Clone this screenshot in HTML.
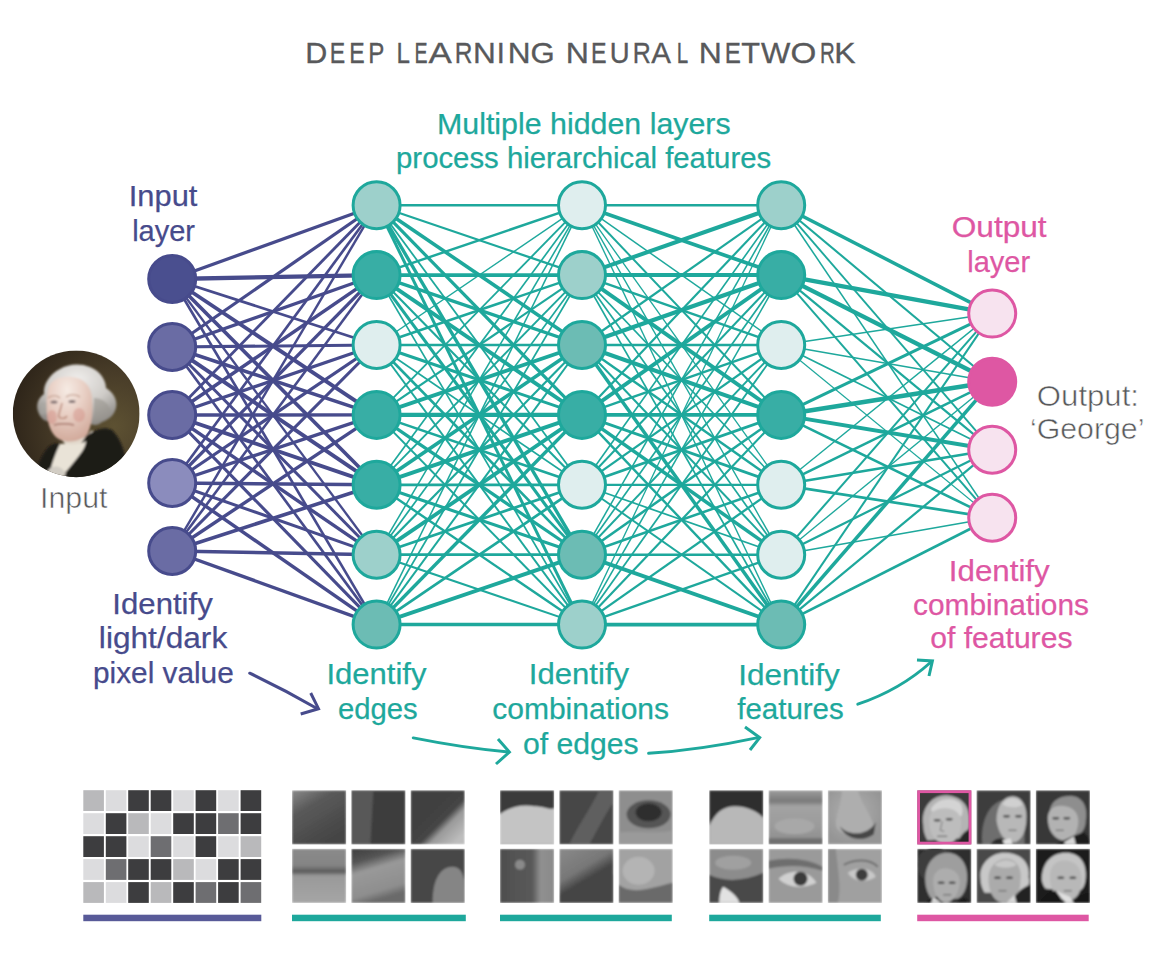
<!DOCTYPE html>
<html><head><meta charset="utf-8"><style>
html,body{margin:0;padding:0;background:#fff;}
body{width:1172px;height:953px;position:relative;overflow:hidden;font-family:"Liberation Sans",sans-serif;}
</style></head><body>
<svg width="1172" height="953" viewBox="0 0 1172 953" style="position:absolute;left:0;top:0">
<g stroke="#474b8c" stroke-linecap="butt">
<line x1="172.2" y1="279" x2="376.6" y2="205.2" stroke-width="3.28"/>
<line x1="172.2" y1="279" x2="376.6" y2="275.1" stroke-width="4.3"/>
<line x1="172.2" y1="279" x2="376.6" y2="345.0" stroke-width="2.73"/>
<line x1="172.2" y1="279" x2="376.6" y2="414.9" stroke-width="3.82"/>
<line x1="172.2" y1="279" x2="376.6" y2="484.8" stroke-width="3.63"/>
<line x1="172.2" y1="279" x2="376.6" y2="554.7" stroke-width="2.33"/>
<line x1="172.2" y1="279" x2="376.6" y2="624.6" stroke-width="2.63"/>
<line x1="172.2" y1="347" x2="376.6" y2="205.2" stroke-width="3.22"/>
<line x1="172.2" y1="347" x2="376.6" y2="275.1" stroke-width="3.17"/>
<line x1="172.2" y1="347" x2="376.6" y2="345.0" stroke-width="3.12"/>
<line x1="172.2" y1="347" x2="376.6" y2="414.9" stroke-width="3.59"/>
<line x1="172.2" y1="347" x2="376.6" y2="484.8" stroke-width="3.93"/>
<line x1="172.2" y1="347" x2="376.6" y2="554.7" stroke-width="2.96"/>
<line x1="172.2" y1="347" x2="376.6" y2="624.6" stroke-width="2.65"/>
<line x1="172.2" y1="415" x2="376.6" y2="205.2" stroke-width="2.86"/>
<line x1="172.2" y1="415" x2="376.6" y2="275.1" stroke-width="3.51"/>
<line x1="172.2" y1="415" x2="376.6" y2="345.0" stroke-width="3.19"/>
<line x1="172.2" y1="415" x2="376.6" y2="414.9" stroke-width="3.37"/>
<line x1="172.2" y1="415" x2="376.6" y2="484.8" stroke-width="3.87"/>
<line x1="172.2" y1="415" x2="376.6" y2="554.7" stroke-width="3.42"/>
<line x1="172.2" y1="415" x2="376.6" y2="624.6" stroke-width="3.11"/>
<line x1="172.2" y1="483" x2="376.6" y2="205.2" stroke-width="2.68"/>
<line x1="172.2" y1="483" x2="376.6" y2="275.1" stroke-width="3.28"/>
<line x1="172.2" y1="483" x2="376.6" y2="345.0" stroke-width="3.22"/>
<line x1="172.2" y1="483" x2="376.6" y2="414.9" stroke-width="3.38"/>
<line x1="172.2" y1="483" x2="376.6" y2="484.8" stroke-width="3.37"/>
<line x1="172.2" y1="483" x2="376.6" y2="554.7" stroke-width="2.98"/>
<line x1="172.2" y1="483" x2="376.6" y2="624.6" stroke-width="3.42"/>
<line x1="172.2" y1="551" x2="376.6" y2="205.2" stroke-width="2.44"/>
<line x1="172.2" y1="551" x2="376.6" y2="275.1" stroke-width="2.57"/>
<line x1="172.2" y1="551" x2="376.6" y2="345.0" stroke-width="3.09"/>
<line x1="172.2" y1="551" x2="376.6" y2="414.9" stroke-width="3.42"/>
<line x1="172.2" y1="551" x2="376.6" y2="484.8" stroke-width="3.59"/>
<line x1="172.2" y1="551" x2="376.6" y2="554.7" stroke-width="3.37"/>
<line x1="172.2" y1="551" x2="376.6" y2="624.6" stroke-width="3.42"/>
</g>
<g stroke="#1ea89c">
<line x1="376.6" y1="205.2" x2="582.0" y2="205.2" stroke-width="2.38"/>
<line x1="376.6" y1="205.2" x2="582.0" y2="275.1" stroke-width="2.26"/>
<line x1="376.6" y1="205.2" x2="582.0" y2="345.0" stroke-width="3.59"/>
<line x1="376.6" y1="205.2" x2="582.0" y2="414.9" stroke-width="3.19"/>
<line x1="376.6" y1="205.2" x2="582.0" y2="484.8" stroke-width="1.78"/>
<line x1="376.6" y1="205.2" x2="582.0" y2="554.7" stroke-width="3.36"/>
<line x1="376.6" y1="205.2" x2="582.0" y2="624.6" stroke-width="3.0"/>
<line x1="376.6" y1="275.1" x2="582.0" y2="205.2" stroke-width="2.45"/>
<line x1="376.6" y1="275.1" x2="582.0" y2="275.1" stroke-width="3.55"/>
<line x1="376.6" y1="275.1" x2="582.0" y2="345.0" stroke-width="3.4"/>
<line x1="376.6" y1="275.1" x2="582.0" y2="414.9" stroke-width="3.95"/>
<line x1="376.6" y1="275.1" x2="582.0" y2="484.8" stroke-width="2.12"/>
<line x1="376.6" y1="275.1" x2="582.0" y2="554.7" stroke-width="3.12"/>
<line x1="376.6" y1="275.1" x2="582.0" y2="624.6" stroke-width="1.73"/>
<line x1="376.6" y1="345.0" x2="582.0" y2="205.2" stroke-width="1.43"/>
<line x1="376.6" y1="345.0" x2="582.0" y2="275.1" stroke-width="2.51"/>
<line x1="376.6" y1="345.0" x2="582.0" y2="345.0" stroke-width="2.35"/>
<line x1="376.6" y1="345.0" x2="582.0" y2="414.9" stroke-width="2.99"/>
<line x1="376.6" y1="345.0" x2="582.0" y2="484.8" stroke-width="1.73"/>
<line x1="376.6" y1="345.0" x2="582.0" y2="554.7" stroke-width="2.56"/>
<line x1="376.6" y1="345.0" x2="582.0" y2="624.6" stroke-width="1.98"/>
<line x1="376.6" y1="414.9" x2="582.0" y2="205.2" stroke-width="1.86"/>
<line x1="376.6" y1="414.9" x2="582.0" y2="275.1" stroke-width="2.12"/>
<line x1="376.6" y1="414.9" x2="582.0" y2="345.0" stroke-width="3.86"/>
<line x1="376.6" y1="414.9" x2="582.0" y2="414.9" stroke-width="4.1"/>
<line x1="376.6" y1="414.9" x2="582.0" y2="484.8" stroke-width="2.53"/>
<line x1="376.6" y1="414.9" x2="582.0" y2="554.7" stroke-width="3.2"/>
<line x1="376.6" y1="414.9" x2="582.0" y2="624.6" stroke-width="2.02"/>
<line x1="376.6" y1="484.8" x2="582.0" y2="205.2" stroke-width="1.68"/>
<line x1="376.6" y1="484.8" x2="582.0" y2="275.1" stroke-width="1.86"/>
<line x1="376.6" y1="484.8" x2="582.0" y2="345.0" stroke-width="3.56"/>
<line x1="376.6" y1="484.8" x2="582.0" y2="414.9" stroke-width="4.06"/>
<line x1="376.6" y1="484.8" x2="582.0" y2="484.8" stroke-width="2.69"/>
<line x1="376.6" y1="484.8" x2="582.0" y2="554.7" stroke-width="3.1"/>
<line x1="376.6" y1="484.8" x2="582.0" y2="624.6" stroke-width="2.42"/>
<line x1="376.6" y1="554.7" x2="582.0" y2="205.2" stroke-width="1.54"/>
<line x1="376.6" y1="554.7" x2="582.0" y2="275.1" stroke-width="1.72"/>
<line x1="376.6" y1="554.7" x2="582.0" y2="345.0" stroke-width="2.2"/>
<line x1="376.6" y1="554.7" x2="582.0" y2="414.9" stroke-width="3.85"/>
<line x1="376.6" y1="554.7" x2="582.0" y2="484.8" stroke-width="2.75"/>
<line x1="376.6" y1="554.7" x2="582.0" y2="554.7" stroke-width="2.68"/>
<line x1="376.6" y1="554.7" x2="582.0" y2="624.6" stroke-width="2.03"/>
<line x1="376.6" y1="624.6" x2="582.0" y2="205.2" stroke-width="1.54"/>
<line x1="376.6" y1="624.6" x2="582.0" y2="275.1" stroke-width="1.78"/>
<line x1="376.6" y1="624.6" x2="582.0" y2="345.0" stroke-width="1.98"/>
<line x1="376.6" y1="624.6" x2="582.0" y2="414.9" stroke-width="3.49"/>
<line x1="376.6" y1="624.6" x2="582.0" y2="484.8" stroke-width="2.75"/>
<line x1="376.6" y1="624.6" x2="582.0" y2="554.7" stroke-width="3.9"/>
<line x1="376.6" y1="624.6" x2="582.0" y2="624.6" stroke-width="3.5"/>
<line x1="582.0" y1="205.2" x2="781.2" y2="205.2" stroke-width="2.35"/>
<line x1="582.0" y1="205.2" x2="781.2" y2="275.1" stroke-width="3.72"/>
<line x1="582.0" y1="205.2" x2="781.2" y2="345.0" stroke-width="1.48"/>
<line x1="582.0" y1="205.2" x2="781.2" y2="414.9" stroke-width="1.98"/>
<line x1="582.0" y1="205.2" x2="781.2" y2="484.8" stroke-width="1.33"/>
<line x1="582.0" y1="205.2" x2="781.2" y2="554.7" stroke-width="1.38"/>
<line x1="582.0" y1="205.2" x2="781.2" y2="624.6" stroke-width="1.38"/>
<line x1="582.0" y1="275.1" x2="781.2" y2="205.2" stroke-width="4.06"/>
<line x1="582.0" y1="275.1" x2="781.2" y2="275.1" stroke-width="4.0"/>
<line x1="582.0" y1="275.1" x2="781.2" y2="345.0" stroke-width="2.51"/>
<line x1="582.0" y1="275.1" x2="781.2" y2="414.9" stroke-width="3.95"/>
<line x1="582.0" y1="275.1" x2="781.2" y2="484.8" stroke-width="1.61"/>
<line x1="582.0" y1="275.1" x2="781.2" y2="554.7" stroke-width="1.7"/>
<line x1="582.0" y1="275.1" x2="781.2" y2="624.6" stroke-width="1.72"/>
<line x1="582.0" y1="345.0" x2="781.2" y2="205.2" stroke-width="2.2"/>
<line x1="582.0" y1="345.0" x2="781.2" y2="275.1" stroke-width="4.25"/>
<line x1="582.0" y1="345.0" x2="781.2" y2="345.0" stroke-width="2.33"/>
<line x1="582.0" y1="345.0" x2="781.2" y2="414.9" stroke-width="4.06"/>
<line x1="582.0" y1="345.0" x2="781.2" y2="484.8" stroke-width="2.38"/>
<line x1="582.0" y1="345.0" x2="781.2" y2="554.7" stroke-width="2.02"/>
<line x1="582.0" y1="345.0" x2="781.2" y2="624.6" stroke-width="3.48"/>
<line x1="582.0" y1="414.9" x2="781.2" y2="205.2" stroke-width="2.16"/>
<line x1="582.0" y1="414.9" x2="781.2" y2="275.1" stroke-width="3.89"/>
<line x1="582.0" y1="414.9" x2="781.2" y2="345.0" stroke-width="2.51"/>
<line x1="582.0" y1="414.9" x2="781.2" y2="414.9" stroke-width="3.8"/>
<line x1="582.0" y1="414.9" x2="781.2" y2="484.8" stroke-width="2.75"/>
<line x1="582.0" y1="414.9" x2="781.2" y2="554.7" stroke-width="3.6"/>
<line x1="582.0" y1="414.9" x2="781.2" y2="624.6" stroke-width="2.38"/>
<line x1="582.0" y1="484.8" x2="781.2" y2="205.2" stroke-width="1.63"/>
<line x1="582.0" y1="484.8" x2="781.2" y2="275.1" stroke-width="1.98"/>
<line x1="582.0" y1="484.8" x2="781.2" y2="345.0" stroke-width="2.21"/>
<line x1="582.0" y1="484.8" x2="781.2" y2="414.9" stroke-width="2.75"/>
<line x1="582.0" y1="484.8" x2="781.2" y2="484.8" stroke-width="2.15"/>
<line x1="582.0" y1="484.8" x2="781.2" y2="554.7" stroke-width="1.73"/>
<line x1="582.0" y1="484.8" x2="781.2" y2="624.6" stroke-width="1.92"/>
<line x1="582.0" y1="554.7" x2="781.2" y2="205.2" stroke-width="1.54"/>
<line x1="582.0" y1="554.7" x2="781.2" y2="275.1" stroke-width="1.66"/>
<line x1="582.0" y1="554.7" x2="781.2" y2="345.0" stroke-width="1.98"/>
<line x1="582.0" y1="554.7" x2="781.2" y2="414.9" stroke-width="2.56"/>
<line x1="582.0" y1="554.7" x2="781.2" y2="484.8" stroke-width="2.51"/>
<line x1="582.0" y1="554.7" x2="781.2" y2="554.7" stroke-width="2.53"/>
<line x1="582.0" y1="554.7" x2="781.2" y2="624.6" stroke-width="3.88"/>
<line x1="582.0" y1="624.6" x2="781.2" y2="205.2" stroke-width="1.31"/>
<line x1="582.0" y1="624.6" x2="781.2" y2="275.1" stroke-width="1.55"/>
<line x1="582.0" y1="624.6" x2="781.2" y2="345.0" stroke-width="1.78"/>
<line x1="582.0" y1="624.6" x2="781.2" y2="414.9" stroke-width="2.16"/>
<line x1="582.0" y1="624.6" x2="781.2" y2="484.8" stroke-width="2.32"/>
<line x1="582.0" y1="624.6" x2="781.2" y2="554.7" stroke-width="2.51"/>
<line x1="582.0" y1="624.6" x2="781.2" y2="624.6" stroke-width="3.71"/>
<line x1="781.2" y1="205.2" x2="992.2" y2="313.6" stroke-width="3.48"/>
<line x1="781.2" y1="205.2" x2="992.2" y2="381.7" stroke-width="2.09"/>
<line x1="781.2" y1="205.2" x2="992.2" y2="449.7" stroke-width="1.87"/>
<line x1="781.2" y1="205.2" x2="992.2" y2="517.8" stroke-width="1.55"/>
<line x1="781.2" y1="275.1" x2="992.2" y2="313.6" stroke-width="4.21"/>
<line x1="781.2" y1="275.1" x2="992.2" y2="381.7" stroke-width="4.4"/>
<line x1="781.2" y1="275.1" x2="992.2" y2="449.7" stroke-width="2.2"/>
<line x1="781.2" y1="275.1" x2="992.2" y2="517.8" stroke-width="1.99"/>
<line x1="781.2" y1="345.0" x2="992.2" y2="313.6" stroke-width="1.48"/>
<line x1="781.2" y1="345.0" x2="992.2" y2="381.7" stroke-width="1.54"/>
<line x1="781.2" y1="345.0" x2="992.2" y2="449.7" stroke-width="1.72"/>
<line x1="781.2" y1="345.0" x2="992.2" y2="517.8" stroke-width="1.2"/>
<line x1="781.2" y1="414.9" x2="992.2" y2="313.6" stroke-width="2.99"/>
<line x1="781.2" y1="414.9" x2="992.2" y2="381.7" stroke-width="4.54"/>
<line x1="781.2" y1="414.9" x2="992.2" y2="449.7" stroke-width="3.95"/>
<line x1="781.2" y1="414.9" x2="992.2" y2="517.8" stroke-width="2.62"/>
<line x1="781.2" y1="484.8" x2="992.2" y2="313.6" stroke-width="1.36"/>
<line x1="781.2" y1="484.8" x2="992.2" y2="381.7" stroke-width="2.46"/>
<line x1="781.2" y1="484.8" x2="992.2" y2="449.7" stroke-width="2.68"/>
<line x1="781.2" y1="484.8" x2="992.2" y2="517.8" stroke-width="2.7"/>
<line x1="781.2" y1="554.7" x2="992.2" y2="313.6" stroke-width="2.03"/>
<line x1="781.2" y1="554.7" x2="992.2" y2="381.7" stroke-width="1.36"/>
<line x1="781.2" y1="554.7" x2="992.2" y2="449.7" stroke-width="2.26"/>
<line x1="781.2" y1="554.7" x2="992.2" y2="517.8" stroke-width="1.48"/>
<line x1="781.2" y1="624.6" x2="992.2" y2="313.6" stroke-width="2.03"/>
<line x1="781.2" y1="624.6" x2="992.2" y2="381.7" stroke-width="3.54"/>
<line x1="781.2" y1="624.6" x2="992.2" y2="449.7" stroke-width="2.22"/>
<line x1="781.2" y1="624.6" x2="992.2" y2="517.8" stroke-width="2.74"/>
</g>
<circle cx="172.2" cy="279" r="23.5" fill="#4a4f8f" stroke="#474b8c" stroke-width="3"/>
<circle cx="172.2" cy="347" r="23.5" fill="#6a6ca4" stroke="#474b8c" stroke-width="3"/>
<circle cx="172.2" cy="415" r="23.5" fill="#6a6ca4" stroke="#474b8c" stroke-width="3"/>
<circle cx="172.2" cy="483" r="23.5" fill="#8b8cbd" stroke="#474b8c" stroke-width="3"/>
<circle cx="172.2" cy="551" r="23.5" fill="#6a6ca4" stroke="#474b8c" stroke-width="3"/>
<circle cx="376.6" cy="205.2" r="23.5" fill="#9dd0cb" stroke="#1ea89c" stroke-width="3"/>
<circle cx="376.6" cy="275.1" r="23.5" fill="#38aea5" stroke="#1ea89c" stroke-width="3"/>
<circle cx="376.6" cy="345.0" r="23.5" fill="#dfeeee" stroke="#1ea89c" stroke-width="3"/>
<circle cx="376.6" cy="414.9" r="23.5" fill="#38aea5" stroke="#1ea89c" stroke-width="3"/>
<circle cx="376.6" cy="484.8" r="23.5" fill="#38aea5" stroke="#1ea89c" stroke-width="3"/>
<circle cx="376.6" cy="554.7" r="23.5" fill="#9dd0cb" stroke="#1ea89c" stroke-width="3"/>
<circle cx="376.6" cy="624.6" r="23.5" fill="#6cbcb4" stroke="#1ea89c" stroke-width="3"/>
<circle cx="582.0" cy="205.2" r="23.5" fill="#dfeeee" stroke="#1ea89c" stroke-width="3"/>
<circle cx="582.0" cy="275.1" r="23.5" fill="#9dd0cb" stroke="#1ea89c" stroke-width="3"/>
<circle cx="582.0" cy="345.0" r="23.5" fill="#6cbcb4" stroke="#1ea89c" stroke-width="3"/>
<circle cx="582.0" cy="414.9" r="23.5" fill="#38aea5" stroke="#1ea89c" stroke-width="3"/>
<circle cx="582.0" cy="484.8" r="23.5" fill="#dfeeee" stroke="#1ea89c" stroke-width="3"/>
<circle cx="582.0" cy="554.7" r="23.5" fill="#6cbcb4" stroke="#1ea89c" stroke-width="3"/>
<circle cx="582.0" cy="624.6" r="23.5" fill="#9dd0cb" stroke="#1ea89c" stroke-width="3"/>
<circle cx="781.2" cy="205.2" r="23.5" fill="#9dd0cb" stroke="#1ea89c" stroke-width="3"/>
<circle cx="781.2" cy="275.1" r="23.5" fill="#38aea5" stroke="#1ea89c" stroke-width="3"/>
<circle cx="781.2" cy="345.0" r="23.5" fill="#dfeeee" stroke="#1ea89c" stroke-width="3"/>
<circle cx="781.2" cy="414.9" r="23.5" fill="#38aea5" stroke="#1ea89c" stroke-width="3"/>
<circle cx="781.2" cy="484.8" r="23.5" fill="#dfeeee" stroke="#1ea89c" stroke-width="3"/>
<circle cx="781.2" cy="554.7" r="23.5" fill="#dfeeee" stroke="#1ea89c" stroke-width="3"/>
<circle cx="781.2" cy="624.6" r="23.5" fill="#6cbcb4" stroke="#1ea89c" stroke-width="3"/>
<circle cx="992.2" cy="313.6" r="23.5" fill="#f7e3ef" stroke="#de57a3" stroke-width="3"/>
<circle cx="992.2" cy="381.7" r="23.5" fill="#de57a3" stroke="#de57a3" stroke-width="3"/>
<circle cx="992.2" cy="449.7" r="23.5" fill="#f7e3ef" stroke="#de57a3" stroke-width="3"/>
<circle cx="992.2" cy="517.8" r="23.5" fill="#f7e3ef" stroke="#de57a3" stroke-width="3"/>
<g font-family="Liberation Sans, sans-serif">
<text transform="translate(305.37,63) scale(1.017,1)" fill="#58595b" font-size="30" stroke="#58595b" stroke-width="0.35">D</text><text transform="translate(329.76,63) scale(0.771,1)" fill="#58595b" font-size="30" stroke="#58595b" stroke-width="0.35">E</text><text transform="translate(349.26,63) scale(0.771,1)" fill="#58595b" font-size="30" stroke="#58595b" stroke-width="0.35">E</text><text transform="translate(368.29,63) scale(0.806,1)" fill="#58595b" font-size="30" stroke="#58595b" stroke-width="0.35">P</text><text transform="translate(396.39,63) scale(0.807,1)" fill="#58595b" font-size="30" stroke="#58595b" stroke-width="0.35">L</text><text transform="translate(414.59,63) scale(0.653,1)" fill="#58595b" font-size="30" stroke="#58595b" stroke-width="0.35">E</text><text transform="translate(428.60,63) scale(1.165,1)" fill="#58595b" font-size="30" stroke="#58595b" stroke-width="0.35">A</text><text transform="translate(454.67,63) scale(0.817,1)" fill="#58595b" font-size="30" stroke="#58595b" stroke-width="0.35">R</text><text transform="translate(473.09,63) scale(1.053,1)" fill="#58595b" font-size="30" stroke="#58595b" stroke-width="0.35">N</text><text transform="translate(496.80,63) scale(0.967,1)" fill="#58595b" font-size="30" stroke="#58595b" stroke-width="0.35">I</text><text transform="translate(507.69,63) scale(1.053,1)" fill="#58595b" font-size="30" stroke="#58595b" stroke-width="0.35">N</text><text transform="translate(530.43,63) scale(1.037,1)" fill="#58595b" font-size="30" stroke="#58595b" stroke-width="0.35">G</text><text transform="translate(565.76,63) scale(1.071,1)" fill="#58595b" font-size="30" stroke="#58595b" stroke-width="0.35">N</text><text transform="translate(591.05,63) scale(0.776,1)" fill="#58595b" font-size="30" stroke="#58595b" stroke-width="0.35">E</text><text transform="translate(609.86,63) scale(0.918,1)" fill="#58595b" font-size="30" stroke="#58595b" stroke-width="0.35">U</text><text transform="translate(632.73,63) scale(0.833,1)" fill="#58595b" font-size="30" stroke="#58595b" stroke-width="0.35">R</text><text transform="translate(651.20,63) scale(0.985,1)" fill="#58595b" font-size="30" stroke="#58595b" stroke-width="0.35">A</text><text transform="translate(676.63,63) scale(0.686,1)" fill="#58595b" font-size="30" stroke="#58595b" stroke-width="0.35">L</text><text transform="translate(698.77,63) scale(1.065,1)" fill="#58595b" font-size="30" stroke="#58595b" stroke-width="0.35">N</text><text transform="translate(724.69,63) scale(0.806,1)" fill="#58595b" font-size="30" stroke="#58595b" stroke-width="0.35">E</text><text transform="translate(741.18,63) scale(1.024,1)" fill="#58595b" font-size="30" stroke="#58595b" stroke-width="0.35">T</text><text transform="translate(761.10,63) scale(1.036,1)" fill="#58595b" font-size="30" stroke="#58595b" stroke-width="0.35">W</text><text transform="translate(790.40,63) scale(1.105,1)" fill="#58595b" font-size="30" stroke="#58595b" stroke-width="0.35">O</text><text transform="translate(819.93,63) scale(0.683,1)" fill="#58595b" font-size="30" stroke="#58595b" stroke-width="0.35">R</text><text transform="translate(834.37,63) scale(1.065,1)" fill="#58595b" font-size="30" stroke="#58595b" stroke-width="0.35">K</text>
<text x="436.98" y="134" fill="#1ea89c" font-size="30" textLength="293.69" lengthAdjust="spacingAndGlyphs" stroke="#1ea89c" stroke-width="0.25">Multiple hidden layers</text>
<text x="396.04" y="167.5" fill="#1ea89c" font-size="30" textLength="375.16" lengthAdjust="spacingAndGlyphs" stroke="#1ea89c" stroke-width="0.25">process hierarchical features</text>
<text x="128.82" y="205.7" fill="#474b8c" font-size="30" textLength="68.51" lengthAdjust="spacingAndGlyphs" stroke="#474b8c" stroke-width="0.25">Input</text>
<text x="132.17" y="240.7" fill="#474b8c" font-size="30" textLength="62.86" lengthAdjust="spacingAndGlyphs" stroke="#474b8c" stroke-width="0.25">layer</text>
<text x="951.75" y="236.7" fill="#de57a3" font-size="30" textLength="94.82" lengthAdjust="spacingAndGlyphs" stroke="#de57a3" stroke-width="0.25">Output</text>
<text x="967.27" y="271.5" fill="#de57a3" font-size="30" textLength="62.86" lengthAdjust="spacingAndGlyphs" stroke="#de57a3" stroke-width="0.25">layer</text>
<text x="1036.86" y="405.5" fill="#58595b" font-size="30" textLength="102.14" lengthAdjust="spacingAndGlyphs" stroke="#fff" stroke-width="0.55">Output:</text>
<text x="1029.98" y="439" fill="#58595b" font-size="30" textLength="114.44" lengthAdjust="spacingAndGlyphs" stroke="#fff" stroke-width="0.55">&#8216;George&#8217;</text>
<text x="39.97" y="508" fill="#58595b" font-size="30" textLength="67.46" lengthAdjust="spacingAndGlyphs" stroke="#fff" stroke-width="0.55">Input</text>
<text x="112.39" y="614.4" fill="#474b8c" font-size="30" textLength="100.34" lengthAdjust="spacingAndGlyphs" stroke="#474b8c" stroke-width="0.25">Identify</text>
<text x="98.89" y="648" fill="#474b8c" font-size="30" textLength="128.33" lengthAdjust="spacingAndGlyphs" stroke="#474b8c" stroke-width="0.25">light/dark</text>
<text x="93.01" y="683" fill="#474b8c" font-size="30" textLength="140.75" lengthAdjust="spacingAndGlyphs" stroke="#474b8c" stroke-width="0.25">pixel value</text>
<text x="326.4" y="684" fill="#1ea89c" font-size="30" textLength="100.03" lengthAdjust="spacingAndGlyphs" stroke="#1ea89c" stroke-width="0.25">Identify</text>
<text x="338.02" y="719" fill="#1ea89c" font-size="30" textLength="79.71" lengthAdjust="spacingAndGlyphs" stroke="#1ea89c" stroke-width="0.25">edges</text>
<text x="528.89" y="684" fill="#1ea89c" font-size="30" textLength="100.23" lengthAdjust="spacingAndGlyphs" stroke="#1ea89c" stroke-width="0.25">Identify</text>
<text x="492.2" y="719" fill="#1ea89c" font-size="30" textLength="176.87" lengthAdjust="spacingAndGlyphs" stroke="#1ea89c" stroke-width="0.25">combinations</text>
<text x="523.0" y="753.8" fill="#1ea89c" font-size="30" textLength="115.6" lengthAdjust="spacingAndGlyphs" stroke="#1ea89c" stroke-width="0.25">of edges</text>
<text x="738.15" y="685.4" fill="#1ea89c" font-size="30" textLength="101.57" lengthAdjust="spacingAndGlyphs" stroke="#1ea89c" stroke-width="0.25">Identify</text>
<text x="737.3" y="718.8" fill="#1ea89c" font-size="30" textLength="106.4" lengthAdjust="spacingAndGlyphs" stroke="#1ea89c" stroke-width="0.25">features</text>
<text x="948.87" y="581.4" fill="#de57a3" font-size="30" textLength="100.85" lengthAdjust="spacingAndGlyphs" stroke="#de57a3" stroke-width="0.25">Identify</text>
<text x="913.0" y="614.8" fill="#de57a3" font-size="30" textLength="175.96" lengthAdjust="spacingAndGlyphs" stroke="#de57a3" stroke-width="0.25">combinations</text>
<text x="930.2" y="648" fill="#de57a3" font-size="30" textLength="142.27" lengthAdjust="spacingAndGlyphs" stroke="#de57a3" stroke-width="0.25">of features</text>
</g>
<path d="M249.7,673.2 Q285,690 317,708.5" fill="none" stroke="#474b8c" stroke-width="3.0" stroke-linecap="round"/>
<path d="M310.7,693 L318.5,708.7 L300.7,714" fill="none" stroke="#474b8c" stroke-width="3.0" stroke-linejoin="miter" stroke-linecap="butt"/>
<path d="M413.3,737.9 Q464.3,748.1 508.5,752" fill="none" stroke="#1ea89c" stroke-width="3.0" stroke-linecap="round"/>
<path d="M498,739 L509.4,752 L496,764" fill="none" stroke="#1ea89c" stroke-width="3.0" stroke-linejoin="miter" stroke-linecap="butt"/>
<path d="M648.6,753.3 Q700,750 758,737.6" fill="none" stroke="#1ea89c" stroke-width="3.0" stroke-linecap="round"/>
<path d="M745,727 L759.7,737.6 L750,750" fill="none" stroke="#1ea89c" stroke-width="3.0" stroke-linejoin="miter" stroke-linecap="butt"/>
<path d="M857.8,704.2 Q900,690 931,662" fill="none" stroke="#1ea89c" stroke-width="3.0" stroke-linecap="round"/>
<path d="M917,660 L932.4,661 L929,676" fill="none" stroke="#1ea89c" stroke-width="3.0" stroke-linejoin="miter" stroke-linecap="butt"/>
<rect x="83.3" y="790.2" width="20.6" height="20.8" fill="#b9b9bb"/>
<rect x="105.8" y="790.2" width="20.6" height="20.8" fill="#dcdcde"/>
<rect x="128.2" y="790.2" width="20.6" height="20.8" fill="#3d3d3f"/>
<rect x="150.7" y="790.2" width="20.6" height="20.8" fill="#3d3d3f"/>
<rect x="173.2" y="790.2" width="20.6" height="20.8" fill="#dcdcde"/>
<rect x="195.6" y="790.2" width="20.6" height="20.8" fill="#3d3d3f"/>
<rect x="218.1" y="790.2" width="20.6" height="20.8" fill="#dcdcde"/>
<rect x="240.6" y="790.2" width="20.6" height="20.8" fill="#3d3d3f"/>
<rect x="83.3" y="813.2" width="20.6" height="20.8" fill="#dcdcde"/>
<rect x="105.8" y="813.2" width="20.6" height="20.8" fill="#3d3d3f"/>
<rect x="128.2" y="813.2" width="20.6" height="20.8" fill="#b9b9bb"/>
<rect x="150.7" y="813.2" width="20.6" height="20.8" fill="#dcdcde"/>
<rect x="173.2" y="813.2" width="20.6" height="20.8" fill="#3d3d3f"/>
<rect x="195.6" y="813.2" width="20.6" height="20.8" fill="#3d3d3f"/>
<rect x="218.1" y="813.2" width="20.6" height="20.8" fill="#6e6e71"/>
<rect x="240.6" y="813.2" width="20.6" height="20.8" fill="#3d3d3f"/>
<rect x="83.3" y="836.2" width="20.6" height="20.8" fill="#3d3d3f"/>
<rect x="105.8" y="836.2" width="20.6" height="20.8" fill="#3d3d3f"/>
<rect x="128.2" y="836.2" width="20.6" height="20.8" fill="#dcdcde"/>
<rect x="150.7" y="836.2" width="20.6" height="20.8" fill="#6e6e71"/>
<rect x="173.2" y="836.2" width="20.6" height="20.8" fill="#dcdcde"/>
<rect x="195.6" y="836.2" width="20.6" height="20.8" fill="#3d3d3f"/>
<rect x="218.1" y="836.2" width="20.6" height="20.8" fill="#dcdcde"/>
<rect x="240.6" y="836.2" width="20.6" height="20.8" fill="#b9b9bb"/>
<rect x="83.3" y="859.1" width="20.6" height="20.8" fill="#dcdcde"/>
<rect x="105.8" y="859.1" width="20.6" height="20.8" fill="#6e6e71"/>
<rect x="128.2" y="859.1" width="20.6" height="20.8" fill="#3d3d3f"/>
<rect x="150.7" y="859.1" width="20.6" height="20.8" fill="#3d3d3f"/>
<rect x="173.2" y="859.1" width="20.6" height="20.8" fill="#b9b9bb"/>
<rect x="195.6" y="859.1" width="20.6" height="20.8" fill="#dcdcde"/>
<rect x="218.1" y="859.1" width="20.6" height="20.8" fill="#3d3d3f"/>
<rect x="240.6" y="859.1" width="20.6" height="20.8" fill="#3d3d3f"/>
<rect x="83.3" y="882.1" width="20.6" height="20.8" fill="#b9b9bb"/>
<rect x="105.8" y="882.1" width="20.6" height="20.8" fill="#dcdcde"/>
<rect x="128.2" y="882.1" width="20.6" height="20.8" fill="#3d3d3f"/>
<rect x="150.7" y="882.1" width="20.6" height="20.8" fill="#b9b9bb"/>
<rect x="173.2" y="882.1" width="20.6" height="20.8" fill="#3d3d3f"/>
<rect x="195.6" y="882.1" width="20.6" height="20.8" fill="#6e6e71"/>
<rect x="218.1" y="882.1" width="20.6" height="20.8" fill="#3d3d3f"/>
<rect x="240.6" y="882.1" width="20.6" height="20.8" fill="#6e6e71"/>
<rect x="83.3" y="914.7" width="178" height="6.5" fill="#585a98"/>
<rect x="292" y="914.7" width="173.8" height="6.5" fill="#1ea89c"/>
<rect x="500" y="914.7" width="171.8" height="6.5" fill="#1ea89c"/>
<rect x="709.2" y="914.7" width="171.6" height="6.5" fill="#1ea89c"/>
<rect x="917.2" y="914.7" width="171.5" height="6.5" fill="#de57a3"/>
<defs><filter id="tb" x="-5%" y="-5%" width="110%" height="110%"><feGaussianBlur stdDeviation="0.8"/></filter><linearGradient id="g21" x1="0" y1="0" x2="0.6" y2="1"><stop offset="0" stop-color="#8a8a8a"/><stop offset="0.35" stop-color="#5a5a5a"/><stop offset="1" stop-color="#444444"/></linearGradient><linearGradient id="g23" x1="0.3" y1="0.3" x2="0.9" y2="0.9"><stop offset="0" stop-color="#3f3f3f"/><stop offset="0.45" stop-color="#454545"/><stop offset="0.62" stop-color="#9a9a9a"/><stop offset="1" stop-color="#bdbdbd"/></linearGradient><linearGradient id="g24" x1="0" y1="0" x2="0" y2="1"><stop offset="0" stop-color="#8a8a8a"/><stop offset="0.3" stop-color="#858585"/><stop offset="0.42" stop-color="#5c5c5c"/><stop offset="0.5" stop-color="#999999"/><stop offset="1" stop-color="#a6a6a6"/></linearGradient><linearGradient id="g25" x1="0" y1="0" x2="0.3" y2="1"><stop offset="0" stop-color="#3e3e3e"/><stop offset="0.25" stop-color="#555555"/><stop offset="0.45" stop-color="#999999"/><stop offset="0.85" stop-color="#8e8e8e"/><stop offset="1" stop-color="#6a6a6a"/></linearGradient><linearGradient id="g31" x1="0" y1="0" x2="0" y2="1"><stop offset="0" stop-color="#3a3a3a"/><stop offset="0.28" stop-color="#3e3e3e"/><stop offset="0.4" stop-color="#bdbdbd"/><stop offset="1" stop-color="#cacaca"/></linearGradient><linearGradient id="g32" x1="0" y1="0" x2="1" y2="1"><stop offset="0" stop-color="#4a4a4a"/><stop offset="0.5" stop-color="#5a5a5a"/><stop offset="1" stop-color="#404040"/></linearGradient><linearGradient id="g34" x1="0" y1="0" x2="1" y2="0"><stop offset="0" stop-color="#4e4e4e"/><stop offset="0.6" stop-color="#5a5a5a"/><stop offset="0.75" stop-color="#909090"/><stop offset="1" stop-color="#8a8a8a"/></linearGradient><linearGradient id="g35" x1="0" y1="0" x2="0.6" y2="1"><stop offset="0" stop-color="#8a8a8a"/><stop offset="0.45" stop-color="#777777"/><stop offset="0.65" stop-color="#444444"/><stop offset="1" stop-color="#4a4a4a"/></linearGradient><radialGradient id="g36" cx="0.35" cy="0.4" r="0.7"><stop offset="0" stop-color="#c0c0c0"/><stop offset="0.5" stop-color="#a8a8a8"/><stop offset="1" stop-color="#6e6e6e"/></radialGradient><linearGradient id="g36b" x1="0" y1="0" x2="0" y2="1"><stop offset="0" stop-color="#ffffff"/><stop offset="1" stop-color="#000000"/></linearGradient><linearGradient id="g42" x1="0" y1="0" x2="0" y2="1"><stop offset="0" stop-color="#9c9c9c"/><stop offset="0.2" stop-color="#7a7a7a"/><stop offset="0.3" stop-color="#a3a3a3"/><stop offset="0.7" stop-color="#9a9a9a"/><stop offset="1" stop-color="#8a8a8a"/></linearGradient><radialGradient id="g43" cx="0.45" cy="0.4" r="0.6"><stop offset="0" stop-color="#b0b0b0"/><stop offset="1" stop-color="#959595"/></radialGradient></defs><g transform="translate(292.0,790.3)"><clipPath id="tc0"><rect width="54.2" height="54.2"/></clipPath><g clip-path="url(#tc0)"><g filter="url(#tb)"><rect width="54.2" height="54.2" fill="url(#g21)"/></g></g></g>
<g transform="translate(351.3,790.3)"><clipPath id="tc1"><rect width="54.2" height="54.2"/></clipPath><g clip-path="url(#tc1)"><g filter="url(#tb)"><rect width="54.2" height="54.2" fill="#3e3e3e"/><path d="M0,0 L22,0 L19,54 L0,54 Z" fill="#595959"/></g></g></g>
<g transform="translate(410.6,790.3)"><clipPath id="tc2"><rect width="54.2" height="54.2"/></clipPath><g clip-path="url(#tc2)"><g filter="url(#tb)"><rect width="54.2" height="54.2" fill="url(#g23)"/></g></g></g>
<g transform="translate(292.0,848.8)"><clipPath id="tc3"><rect width="54.2" height="54.2"/></clipPath><g clip-path="url(#tc3)"><g filter="url(#tb)"><rect width="54.2" height="54.2" fill="url(#g24)"/></g></g></g>
<g transform="translate(351.3,848.8)"><clipPath id="tc4"><rect width="54.2" height="54.2"/></clipPath><g clip-path="url(#tc4)"><g filter="url(#tb)"><rect width="54.2" height="54.2" fill="url(#g25)"/></g></g></g>
<g transform="translate(410.6,848.8)"><clipPath id="tc5"><rect width="54.2" height="54.2"/></clipPath><g clip-path="url(#tc5)"><g filter="url(#tb)"><rect width="54.2" height="54.2" fill="#464646"/><path d="M22,54 C22,30 30,18 42,18 C52,18 54,30 54,40 L54,54 Z" fill="#858585"/></g></g></g>
<g transform="translate(500.0,790.3)"><clipPath id="tc6"><rect width="54.2" height="54.2"/></clipPath><g clip-path="url(#tc6)"><g filter="url(#tb)"><rect width="54.2" height="54.2" fill="#3a3a3a"/><path d="M0,24 C10,16 24,14 34,16 C44,16 50,20 54,18 L54,54 L0,54 Z" fill="#c4c4c4"/></g></g></g>
<g transform="translate(559.3,790.3)"><clipPath id="tc7"><rect width="54.2" height="54.2"/></clipPath><g clip-path="url(#tc7)"><g filter="url(#tb)"><rect width="54.2" height="54.2" fill="#474747"/><path d="M54,0 L40,0 C30,20 16,40 10,54 L30,54 C38,40 46,24 54,12 Z" fill="#5e5e5e"/></g></g></g>
<g transform="translate(618.6,790.3)"><clipPath id="tc8"><rect width="54.2" height="54.2"/></clipPath><g clip-path="url(#tc8)"><g filter="url(#tb)"><rect width="54.2" height="54.2" fill="#8e8e8e"/><ellipse cx="30" cy="24" rx="22" ry="14" fill="#555555"/><ellipse cx="30" cy="22" rx="13" ry="9" fill="#2f2f2f"/><path d="M0,42 C20,40 40,44 54,40 L54,54 L0,54 Z" fill="#9a9a9a"/></g></g></g>
<g transform="translate(500.0,848.8)"><clipPath id="tc9"><rect width="54.2" height="54.2"/></clipPath><g clip-path="url(#tc9)"><g filter="url(#tb)"><rect width="54.2" height="54.2" fill="url(#g34)"/><circle cx="20" cy="16" r="5" fill="#8a8a8a"/></g></g></g>
<g transform="translate(559.3,848.8)"><clipPath id="tc10"><rect width="54.2" height="54.2"/></clipPath><g clip-path="url(#tc10)"><g filter="url(#tb)"><rect width="54.2" height="54.2" fill="url(#g35)"/><path d="M0,54 C8,42 22,32 36,28 C46,24 54,26 54,26 L54,54 Z" fill="#454545"/></g></g></g>
<g transform="translate(618.6,848.8)"><clipPath id="tc11"><rect width="54.2" height="54.2"/></clipPath><g clip-path="url(#tc11)"><g filter="url(#tb)"><rect width="54.2" height="54.2" fill="#a2a2a2"/><path d="M0,36 C14,46 30,40 54,34 L54,54 L0,54 Z" fill="#6a6a6a"/><ellipse cx="20" cy="22" rx="16" ry="14" fill="#b4b4b4"/></g></g></g>
<g transform="translate(709.2,790.3)"><clipPath id="tc12"><rect width="54.2" height="54.2"/></clipPath><g clip-path="url(#tc12)"><g filter="url(#tb)"><rect width="54.2" height="54.2" fill="#2f2f2f"/><path d="M0,36 C6,22 14,16 26,16 C38,16 50,22 54,28 L54,54 L0,54 Z" fill="#b8b8b8"/></g></g></g>
<g transform="translate(768.5,790.3)"><clipPath id="tc13"><rect width="54.2" height="54.2"/></clipPath><g clip-path="url(#tc13)"><g filter="url(#tb)"><rect width="54.2" height="54.2" fill="url(#g42)"/><ellipse cx="26" cy="36" rx="20" ry="8" fill="#a8a8a8"/><rect y="48" width="54" height="6" fill="#707070"/></g></g></g>
<g transform="translate(827.8,790.3)"><clipPath id="tc14"><rect width="54.2" height="54.2"/></clipPath><g clip-path="url(#tc14)"><g filter="url(#tb)"><rect width="54.2" height="54.2" fill="url(#g43)"/><path d="M14,0 L30,0 C34,14 44,26 46,36 C46,44 38,46 30,44 C20,46 8,42 8,34 C8,24 14,14 14,0 Z" fill="#aeaeae"/><path d="M12,36 C20,46 40,46 48,32 L46,44 C36,52 18,50 12,36 Z" fill="#474747"/></g></g></g>
<g transform="translate(709.2,848.8)"><clipPath id="tc15"><rect width="54.2" height="54.2"/></clipPath><g clip-path="url(#tc15)"><g filter="url(#tb)"><rect width="54.2" height="54.2" fill="#8c8c8c"/><ellipse cx="24" cy="14" rx="18" ry="7" fill="#a0a0a0"/><path d="M0,26 C16,34 36,32 54,24 L54,54 L0,54 Z" fill="#4a4a4a"/><path d="M14,38 C22,42 30,50 30,54 L10,54 C10,46 12,40 14,38 Z" fill="#e2e2e2"/></g></g></g>
<g transform="translate(768.5,848.8)"><clipPath id="tc16"><rect width="54.2" height="54.2"/></clipPath><g clip-path="url(#tc16)"><g filter="url(#tb)"><rect width="54.2" height="54.2" fill="#9a9a9a"/><path d="M0,12 C20,8 40,10 54,18 L54,22 C36,16 18,16 0,20 Z" fill="#6e6e6e"/><path d="M10,30 C20,20 40,20 48,34 C36,40 20,40 10,30 Z" fill="#d0d0d0"/><circle cx="32" cy="30" r="7" fill="#3a3a3a"/></g></g></g>
<g transform="translate(827.8,848.8)"><clipPath id="tc17"><rect width="54.2" height="54.2"/></clipPath><g clip-path="url(#tc17)"><g filter="url(#tb)"><rect width="54.2" height="54.2" fill="#a0a0a0"/><path d="M8,0 C10,20 14,40 10,54 L0,54 L0,0 Z" fill="#8a8a8a"/><path d="M20,24 C28,18 44,18 48,28 C40,34 26,34 20,24 Z" fill="#c8c8c8"/><circle cx="34" cy="26" r="6" fill="#3e3e3e"/><path d="M16,16 C28,10 42,10 50,18" stroke="#707070" stroke-width="2" fill="none"/></g></g></g>
<g transform="translate(917.2,790.3)"><clipPath id="tc18"><rect width="54.2" height="54.2"/></clipPath><g clip-path="url(#tc18)"><g filter="url(#tb)"><rect width="54.2" height="54.2" fill="#3a3a3a"/><path d="M6,34 C4,20 12,6 28,5 C42,5 52,14 52,28 C53,38 50,44 46,48 L10,50 C7,44 6,40 6,34 Z" fill="#b4b4b4"/><path d="M14,18 C20,8 34,6 42,12 C46,16 46,22 44,26 L20,26 C16,24 14,22 14,18 Z" fill="#d4d4d4"/><path d="M12,30 C12,22 18,18 28,18 C38,18 44,24 44,32 C44,42 40,52 30,54 C20,54 12,46 12,30 Z" fill="#bdbdbd"/><ellipse cx="20" cy="30" rx="3.5" ry="1.3" fill="#505050"/><ellipse cx="32" cy="29" rx="3.5" ry="1.3" fill="#505050"/><path d="M25,31 L23,40 L27,41" stroke="#777" stroke-width="1" fill="none"/><path d="M20,46 L30,46" stroke="#6a6a6a" stroke-width="1.2"/><path d="M40,54 C42,46 48,40 54,38 L54,54 Z" fill="#262626"/></g></g></g>
<g transform="translate(976.5,790.3)"><clipPath id="tc19"><rect width="54.2" height="54.2"/></clipPath><g clip-path="url(#tc19)"><g filter="url(#tb)"><rect width="54.2" height="54.2" fill="#3e3e3e"/><path d="M6,54 C4,40 8,24 16,16 C22,10 30,8 36,10 C44,14 48,26 48,40 L48,54 Z" fill="#6e6e6e"/><path d="M20,30 C20,14 28,6 36,6 C44,6 50,14 50,26 C50,40 46,50 38,52 C28,52 22,44 20,30 Z" fill="#b8b8b8"/><path d="M26,14 C30,6 42,6 46,14 C44,18 30,18 26,14 Z" fill="#d0d0d0"/><ellipse cx="30" cy="26" rx="3.5" ry="1.3" fill="#4a4a4a"/><ellipse cx="42" cy="26" rx="3.5" ry="1.3" fill="#4a4a4a"/><path d="M32,40 L40,40" stroke="#6a6a6a" stroke-width="1.2"/><path d="M14,54 C18,48 24,46 30,50 L36,54 Z" fill="#2a2a2a"/><path d="M26,50 L34,48 L36,54 L28,54 Z" fill="#e0e0e0"/></g></g></g>
<g transform="translate(1035.8,790.3)"><clipPath id="tc20"><rect width="54.2" height="54.2"/></clipPath><g clip-path="url(#tc20)"><g filter="url(#tb)"><rect width="54.2" height="54.2" fill="#383838"/><path d="M14,22 C14,10 26,4 38,6 C48,8 52,18 50,30 C50,38 46,44 40,46 L20,40 Z" fill="#8e8e8e"/><path d="M12,28 C12,18 20,14 30,16 C40,18 44,26 42,36 C40,46 34,52 26,50 C18,48 12,40 12,28 Z" fill="#b2b2b2"/><ellipse cx="20" cy="28" rx="3.5" ry="1.3" fill="#4a4a4a"/><ellipse cx="31" cy="28" rx="3.5" ry="1.3" fill="#4a4a4a"/><path d="M20,40 L28,40" stroke="#6a6a6a" stroke-width="1.2"/><path d="M20,54 C28,50 40,44 48,42 C52,44 54,50 54,54 Z" fill="#1e1e1e"/><path d="M28,52 L38,46 L40,54 L30,54 Z" fill="#d6d6d6"/></g></g></g>
<g transform="translate(917.2,848.8)"><clipPath id="tc21"><rect width="54.2" height="54.2"/></clipPath><g clip-path="url(#tc21)"><g filter="url(#tb)"><rect width="54.2" height="54.2" fill="#2e2e2e"/><circle cx="18" cy="16" r="18" fill="#3e3e3e"/><path d="M8,30 C8,14 18,4 30,4 C42,4 50,14 50,28 C50,40 46,48 40,50 L14,50 C10,44 8,38 8,30 Z" fill="#9e9e9e"/><path d="M16,32 C16,22 24,18 32,20 C40,22 44,28 42,38 C40,48 34,54 28,54 C20,52 16,44 16,32 Z" fill="#adadad"/><ellipse cx="24" cy="34" rx="3.5" ry="1.3" fill="#4a4a4a"/><ellipse cx="35" cy="34" rx="3.5" ry="1.3" fill="#4a4a4a"/><path d="M26,46 L34,46" stroke="#6a6a6a" stroke-width="1.2"/><path d="M8,54 C12,50 16,48 20,48 L24,54 Z" fill="#1e1e1e"/><path d="M40,54 C42,50 46,48 50,50 L50,54 Z" fill="#1e1e1e"/><path d="M16,48 L24,54 L14,54 Z" fill="#d8d8d8"/></g></g></g>
<g transform="translate(976.5,848.8)"><clipPath id="tc22"><rect width="54.2" height="54.2"/></clipPath><g clip-path="url(#tc22)"><g filter="url(#tb)"><rect width="54.2" height="54.2" fill="#4a4a4a"/><path d="M4,30 C2,16 14,4 28,4 C44,4 54,14 52,28 C54,36 50,42 46,44 L8,44 C6,40 4,36 4,30 Z" fill="#c8c8c8"/><path d="M12,30 C12,18 20,10 30,10 C40,10 46,20 44,32 C44,44 38,54 28,54 C18,54 12,44 12,30 Z" fill="#ababab"/><path d="M18,16 C24,10 36,10 40,16 C36,20 22,20 18,16 Z" fill="#c8c8c8"/><ellipse cx="21" cy="29" rx="3.5" ry="1.3" fill="#4a4a4a"/><ellipse cx="33" cy="29" rx="3.5" ry="1.3" fill="#4a4a4a"/><path d="M22,42 L30,42" stroke="#6a6a6a" stroke-width="1.2"/><path d="M34,54 C38,46 46,38 54,36 L54,54 Z" fill="#242424"/><path d="M30,54 L38,46 L40,54 Z" fill="#d8d8d8"/></g></g></g>
<g transform="translate(1035.8,848.8)"><clipPath id="tc23"><rect width="54.2" height="54.2"/></clipPath><g clip-path="url(#tc23)"><g filter="url(#tb)"><rect width="54.2" height="54.2" fill="#1c1c1c"/><path d="M6,30 C6,14 16,4 30,4 C44,4 50,14 50,26 C50,34 48,40 44,42 L10,40 C8,38 6,34 6,30 Z" fill="#c4c4c4"/><path d="M14,28 C14,16 22,10 32,12 C42,14 46,22 46,32 C46,44 40,52 32,52 C22,52 14,42 14,28 Z" fill="#b8b8b8"/><ellipse cx="25" cy="29" rx="3.5" ry="1.3" fill="#4a4a4a"/><ellipse cx="37" cy="29" rx="3.5" ry="1.3" fill="#4a4a4a"/><path d="M28,42 L36,42" stroke="#6a6a6a" stroke-width="1.2"/><path d="M4,54 C8,46 14,42 20,42 L28,54 Z" fill="#161616"/><path d="M40,54 C42,48 48,44 54,44 L54,54 Z" fill="#161616"/><path d="M20,42 L30,54 L38,54 L34,48 Z" fill="#e0e0e0"/></g></g></g>
<rect x="918.6" y="791.7" width="51.4" height="51.4" fill="none" stroke="#de57a3" stroke-width="2.8"/>
<defs>
<clipPath id="pc"><circle cx="76.2" cy="413.8" r="63.4"/></clipPath>
<radialGradient id="bg" cx="0.8" cy="0.6" r="0.85"><stop offset="0" stop-color="#5d5132"/><stop offset="0.5" stop-color="#483c28"/><stop offset="1" stop-color="#2c2318"/></radialGradient>
<radialGradient id="hairg" cx="0.5" cy="0.25" r="0.75"><stop offset="0" stop-color="#f0eeec"/><stop offset="0.55" stop-color="#cfccc8"/><stop offset="1" stop-color="#8f8c88"/></radialGradient>
<radialGradient id="faceg" cx="0.45" cy="0.2" r="0.85"><stop offset="0" stop-color="#f6ebe4"/><stop offset="0.45" stop-color="#e8cfc4"/><stop offset="1" stop-color="#cfa596"/></radialGradient>
<filter id="pb" x="-10%" y="-10%" width="120%" height="120%"><feGaussianBlur stdDeviation="0.8"/></filter>
<filter id="pb2" x="-20%" y="-20%" width="140%" height="140%"><feGaussianBlur stdDeviation="2"/></filter>
</defs>
<g clip-path="url(#pc)">
<rect x="12.800000000000004" y="350.40000000000003" width="126.8" height="126.8" fill="url(#bg)"/>
<g filter="url(#pb)">
<path d="M39,414 C35,406 38,398 44,394 C43,384 50,374 60,369 C68,364 80,363 90,367 C100,371 106,380 106,388 C113,392 118,400 116,408 C114,416 108,420 102,422 C98,426 92,426 88,422 L52,422 C46,422 41,419 39,414 Z" fill="url(#hairg)"/>
<path d="M94,398 C102,398 110,404 111,412 C108,419 100,422 94,421 Z" fill="#9a9690" opacity="0.6"/>
<path d="M40,404 C44,400 48,402 49,408 C48,414 44,416 40,414 Z" fill="#a9a6a2" opacity="0.6"/>
<path d="M48,390 C50,380 60,376 72,377 C84,378 91,386 92,398 C93,412 92,424 88,433 C84,440 76,443 68,442 C58,441 52,435 49,425 C46,413 46,400 48,390 Z" fill="url(#faceg)"/>
<ellipse cx="52" cy="417" rx="5" ry="7" fill="#d38f86" opacity="0.45"/>
<ellipse cx="79" cy="415" rx="6" ry="7" fill="#d38f86" opacity="0.45"/>
<ellipse cx="54" cy="402" rx="3.5" ry="1.5" fill="#7f6f70"/>
<ellipse cx="72" cy="401.5" rx="3.5" ry="1.5" fill="#7f6f70"/>
<path d="M48,398 C52,395 57,395 60,398" stroke="#bf9a8a" stroke-width="1.2" fill="none"/>
<path d="M66,397 C70,394 76,394 80,397" stroke="#bf9a8a" stroke-width="1.2" fill="none"/>
<path d="M62,403 C61,409 58,414 59,417 C61,419 65,419 67,416" stroke="#b98474" stroke-width="1.4" fill="none"/>
<path d="M54,425 C60,423.5 68,423.5 74,425" stroke="#a57468" stroke-width="1.4" fill="none"/>
<path d="M62,440 C72,444 84,440 92,430 L96,440 C90,448 80,452 70,450 Z" fill="#e2d9cc"/>
<path d="M86,436 C94,430 104,426 112,430 C124,442 128,462 126,482 L62,482 C68,466 78,448 86,436 Z" fill="#1d1a17"/>
<path d="M46,450 C50,444 56,442 60,444 C58,456 52,468 48,482 L34,482 C36,470 40,458 46,450 Z" fill="#1d1a17"/>
<path d="M60,444 C66,443 76,447 86,441 C86,447 80,455 74,462 C68,470 62,476 56,482 L48,482 C50,468 55,454 60,444 Z" fill="#e9e3d7"/>
<path d="M48,470 C54,464 62,466 66,474 C62,480 54,482 46,482 Z" fill="#d2cdc4"/>
</g></g>
</svg>
</body></html>
